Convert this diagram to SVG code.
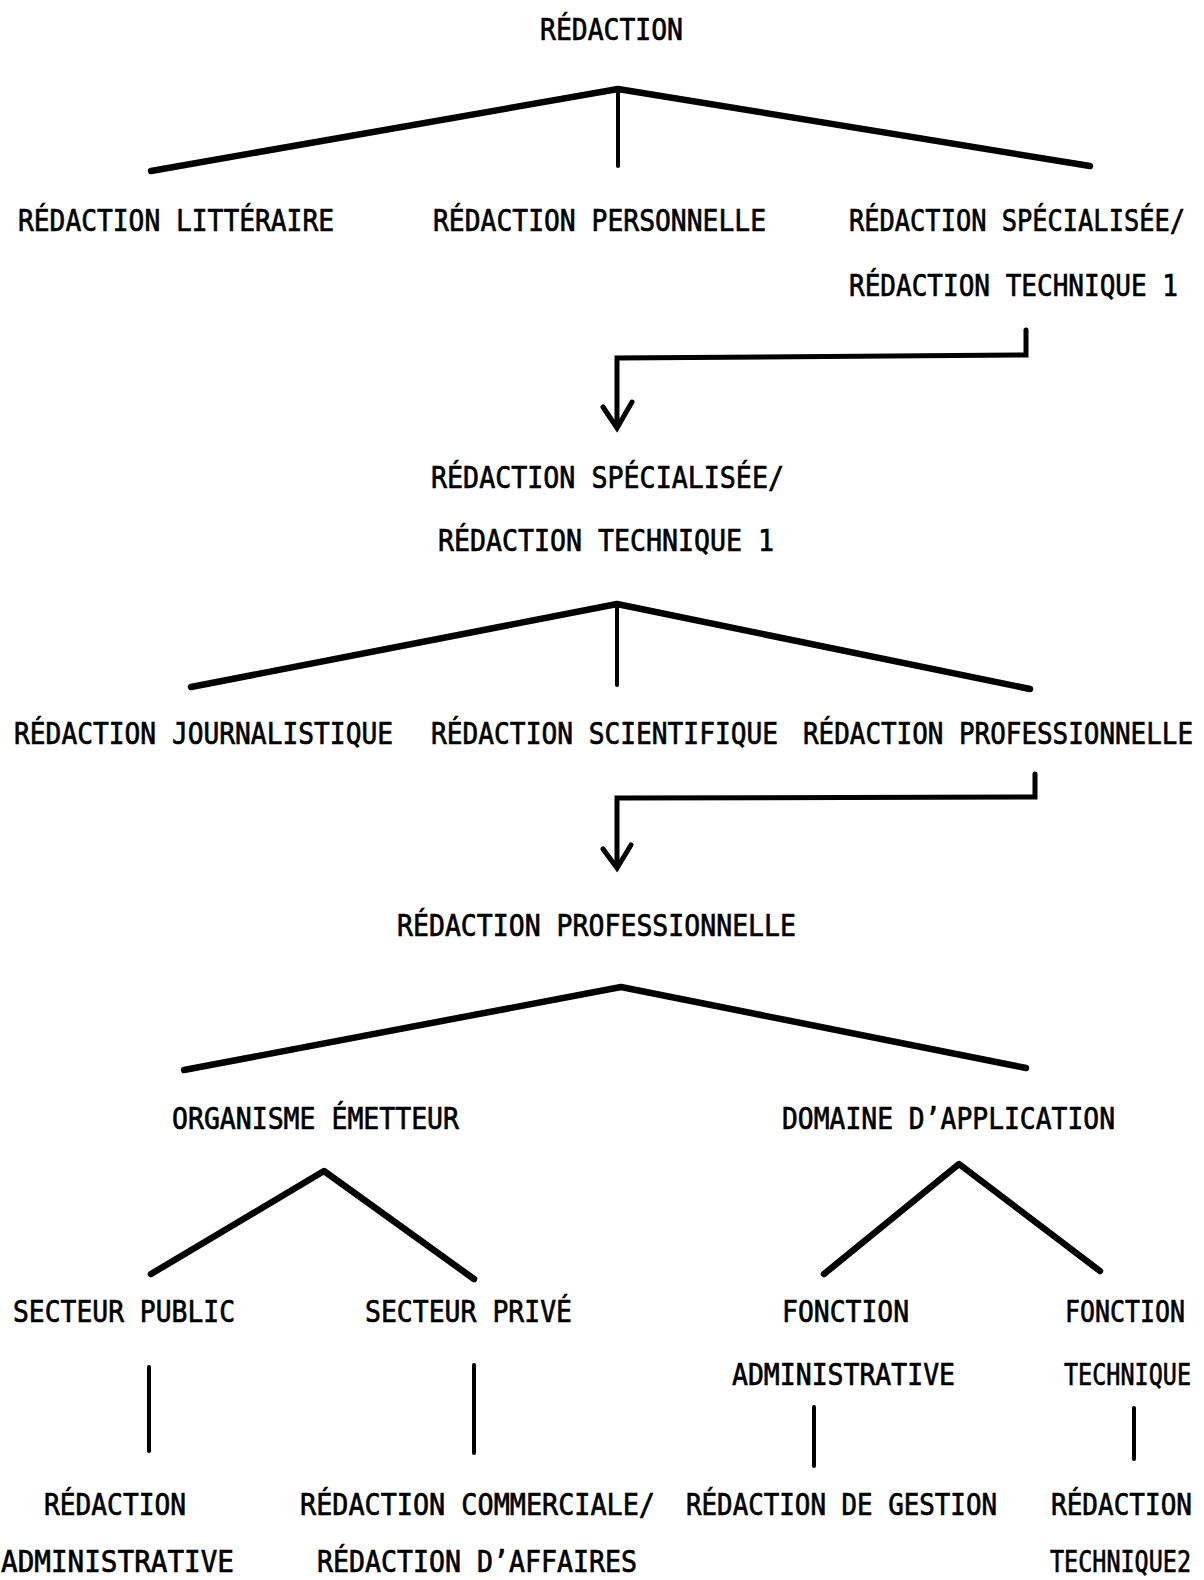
<svg xmlns="http://www.w3.org/2000/svg" width="1204" height="1580" viewBox="0 0 1204 1580">
  <style>
    text { font-family: "DejaVu Sans Mono", "Liberation Mono", monospace; font-size: 26px; fill: #000; stroke: #000; stroke-width: 0.6px; }
    .fan { fill: none; stroke: #000; stroke-width: 6.5; stroke-linecap: round; stroke-linejoin: round; }
    .stem { fill: none; stroke: #000; stroke-width: 4; stroke-linecap: round; }
    .bend { fill: none; stroke: #000; stroke-width: 5; stroke-linecap: round; stroke-linejoin: miter; }
  </style>
  <rect width="1204" height="1580" fill="#fff"/>

  <!-- connectors -->
  <g id="connectors">
    <!-- level 1 fan -->
    <polyline class="fan" points="151,171 618,89 1090,166"/>
    <line class="stem" x1="618" y1="89" x2="618" y2="166"/>
    <!-- bent arrow to second level -->
    <polyline class="bend" points="1026,330 1026,355 617,358 617,426"/>
    <polyline class="bend" points="603,407 617,428 632,402"/>
    <!-- level 2 fan -->
    <polyline class="fan" points="191,687 617,604 1030,689"/>
    <line class="stem" x1="617" y1="604" x2="617" y2="685"/>
    <!-- bent arrow to third level -->
    <polyline class="bend" points="1035,774 1035,797 617,798 617,866"/>
    <polyline class="bend" points="603,849 617,868 631,845"/>
    <!-- level 3 fan -->
    <polyline class="fan" points="184,1070 621,987 1026,1068"/>
    <!-- level 4 fans -->
    <polyline class="fan" points="151,1274 324,1171 474,1279"/>
    <polyline class="fan" points="824,1274 959,1164 1100,1271"/>
    <!-- leaf stems -->
    <line class="stem" x1="149" y1="1367" x2="149" y2="1451"/>
    <line class="stem" x1="474" y1="1365" x2="474" y2="1453"/>
    <line class="stem" x1="814" y1="1407" x2="814" y2="1466"/>
    <line class="stem" x1="1134" y1="1408" x2="1134" y2="1459"/>
  </g>

  <!-- labels: tall narrow lettering, drawn at 26px and stretched vertically -->
  <g id="redaction"><text transform="translate(540 40) scale(1 1.15)" textLength="143" lengthAdjust="spacingAndGlyphs">RÉDACTION</text></g>

  <g id="litteraire"><text transform="translate(18 231) scale(1 1.15)" textLength="316" lengthAdjust="spacingAndGlyphs">RÉDACTION LITTÉRAIRE</text></g>
  <g id="personnelle"><text transform="translate(433 231) scale(1 1.15)" textLength="333" lengthAdjust="spacingAndGlyphs">RÉDACTION PERSONNELLE</text></g>
  <g id="specialisee-a">
    <text transform="translate(849 231) scale(1 1.15)" textLength="336" lengthAdjust="spacingAndGlyphs">RÉDACTION SPÉCIALISÉE/</text>
    <text transform="translate(849 296) scale(1 1.15)" textLength="329" lengthAdjust="spacingAndGlyphs">RÉDACTION TECHNIQUE 1</text>
  </g>

  <g id="specialisee-b">
    <text transform="translate(431 488) scale(1 1.15)" textLength="353" lengthAdjust="spacingAndGlyphs">RÉDACTION SPÉCIALISÉE/</text>
    <text transform="translate(438 551) scale(1 1.15)" textLength="336" lengthAdjust="spacingAndGlyphs">RÉDACTION TECHNIQUE 1</text>
  </g>

  <g id="journalistique"><text transform="translate(14 744) scale(1 1.15)" textLength="379" lengthAdjust="spacingAndGlyphs">RÉDACTION JOURNALISTIQUE</text></g>
  <g id="scientifique"><text transform="translate(431 744) scale(1 1.15)" textLength="347" lengthAdjust="spacingAndGlyphs">RÉDACTION SCIENTIFIQUE</text></g>
  <g id="professionnelle-a"><text transform="translate(803 744) scale(1 1.15)" textLength="390" lengthAdjust="spacingAndGlyphs">RÉDACTION PROFESSIONNELLE</text></g>

  <g id="professionnelle-b"><text transform="translate(397 936) scale(1 1.15)" textLength="399" lengthAdjust="spacingAndGlyphs">RÉDACTION PROFESSIONNELLE</text></g>

  <g id="organisme"><text transform="translate(172 1129) scale(1 1.15)" textLength="287" lengthAdjust="spacingAndGlyphs">ORGANISME ÉMETTEUR</text></g>
  <g id="domaine"><text transform="translate(782 1129) scale(1 1.15)" textLength="333" lengthAdjust="spacingAndGlyphs">DOMAINE D’APPLICATION</text></g>

  <g id="public"><text transform="translate(13 1322) scale(1 1.15)" textLength="222" lengthAdjust="spacingAndGlyphs">SECTEUR PUBLIC</text></g>
  <g id="prive"><text transform="translate(365 1322) scale(1 1.15)" textLength="207" lengthAdjust="spacingAndGlyphs">SECTEUR PRIVÉ</text></g>
  <g id="fonction-admin">
    <text transform="translate(782 1322) scale(1 1.15)" textLength="127" lengthAdjust="spacingAndGlyphs">FONCTION</text>
    <text transform="translate(732 1385) scale(1 1.15)" textLength="223" lengthAdjust="spacingAndGlyphs">ADMINISTRATIVE</text>
  </g>
  <g id="fonction-tech">
    <text transform="translate(1065 1322) scale(1 1.15)" textLength="120" lengthAdjust="spacingAndGlyphs">FONCTION</text>
    <text transform="translate(1064 1385) scale(1 1.15)" textLength="127" lengthAdjust="spacingAndGlyphs">TECHNIQUE</text>
  </g>

  <g id="redaction-admin">
    <text transform="translate(44 1515) scale(1 1.15)" textLength="142" lengthAdjust="spacingAndGlyphs">RÉDACTION</text>
    <text transform="translate(1 1572) scale(1 1.15)" textLength="233" lengthAdjust="spacingAndGlyphs">ADMINISTRATIVE</text>
  </g>
  <g id="redaction-commerciale">
    <text transform="translate(300 1515) scale(1 1.15)" textLength="355" lengthAdjust="spacingAndGlyphs">RÉDACTION COMMERCIALE/</text>
    <text transform="translate(317 1572) scale(1 1.15)" textLength="320" lengthAdjust="spacingAndGlyphs">RÉDACTION D’AFFAIRES</text>
  </g>
  <g id="redaction-gestion"><text transform="translate(686 1515) scale(1 1.15)" textLength="311" lengthAdjust="spacingAndGlyphs">RÉDACTION DE GESTION</text></g>
  <g id="redaction-technique">
    <text transform="translate(1051 1515) scale(1 1.15)" textLength="141" lengthAdjust="spacingAndGlyphs">RÉDACTION</text>
    <text transform="translate(1050 1572) scale(1 1.15)" textLength="141" lengthAdjust="spacingAndGlyphs">TECHNIQUE2</text>
  </g>
</svg>
